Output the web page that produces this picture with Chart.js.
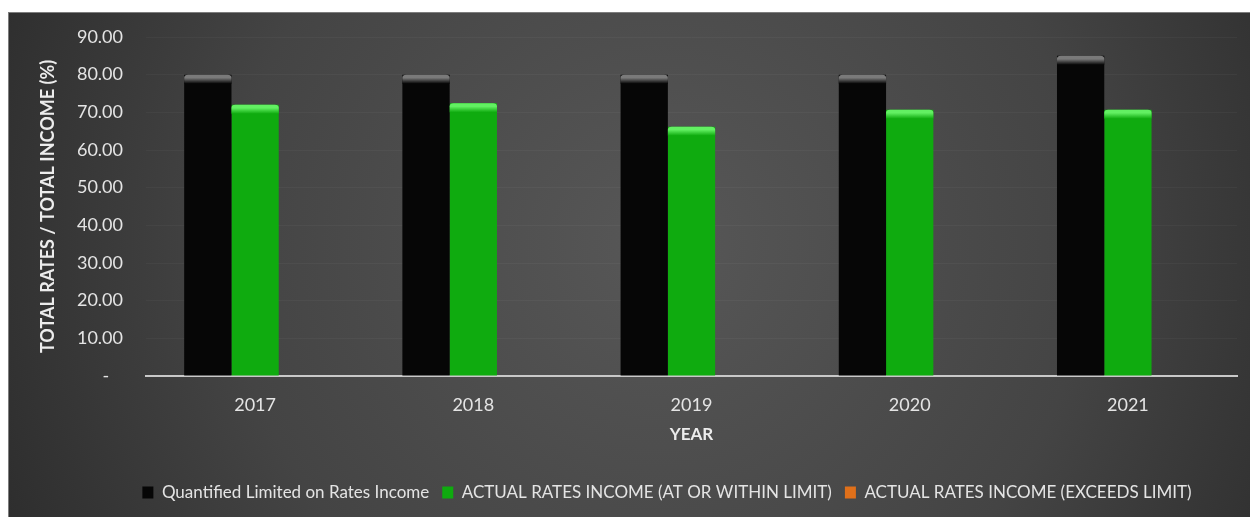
<!DOCTYPE html>
<html>
<head>
<meta charset="utf-8">
<script src="https://cdn.jsdelivr.net/npm/chart.js@4.4.1/dist/chart.umd.min.js"></script>
<style>
  html, body { margin: 0; padding: 0; background: #ffffff; }
  #wrap {
    position: absolute; left: 8px; top: 12px;
    width: 1242px; height: 505px;
    border-top: 1px solid #7d7d7d; border-left: 1px solid #7d7d7d;
  }
  canvas { display: block; }
</style>
</head>
<body>
<div id="wrap"><canvas id="myChart" width="1241" height="504"></canvas></div>
<script>
// rates income vs limit, per year
var years = ["2017", "2018", "2019", "2020", "2021"];
var quantifiedLimit = [80, 80, 80, 80, 85];
var actualWithin = [72.0, 72.4, 66.2, 70.7, 70.7];
var actualExceeds = [null, null, null, null, null];

var seriesNames = [
  "Quantified Limited on Rates Income",
  "ACTUAL RATES INCOME (AT OR WITHIN LIMIT)",
  "ACTUAL RATES INCOME (EXCEEDS LIMIT)",
];

var bodyColor = ["#060606", "#0fab0f", "#e0701a"];
var capColor = ["#7a7a7a", "#62f062", "#ffb060"];

var textColor = "#e4e4e4";
var fontFamily = "Lato, 'Open Sans', sans-serif";

// dark radial backdrop behind everything
const backdrop = {
  id: "backdrop",
  beforeDraw(chart) {
    const { ctx, width, height } = chart;
    const g = ctx.createRadialGradient(650, 230, 0, 650, 230, 780);
    g.addColorStop(0, "#575757");
    g.addColorStop(0.55, "#444444");
    g.addColorStop(1, "#282828");
    ctx.save();
    ctx.fillStyle = g;
    ctx.fillRect(0, 0, width, height);
    ctx.restore();
  },
};

// legend row sits a little right of the canvas centre
const legendShift = {
  id: "legendShift",
  afterLayout(chart) {
    const lg = chart.legend;
    if (!lg) return;
    lg.left += 44;
    lg.right += 44;
  },
};

// glossy rim on top of each bar
const barGloss = {
  id: "barGloss",
  afterDatasetsDraw(chart) {
    const ctx = chart.ctx;
    chart.data.datasets.forEach((ds, i) => {
      const meta = chart.getDatasetMeta(i);
      meta.data.forEach((bar, idx) => {
        if (ds.data[idx] == null) return;
        const left = bar.x - bar.width / 2;
        const top = bar.y;
        const w = bar.width;
        const h = 9;
        const g = ctx.createLinearGradient(0, top, 0, top + h);
        g.addColorStop(0, capColor[i]);
        g.addColorStop(0.35, capColor[i]);
        g.addColorStop(1, bodyColor[i]);
        ctx.save();
        ctx.fillStyle = g;
        ctx.beginPath();
        ctx.moveTo(left, top + h);
        ctx.lineTo(left, top + 3);
        ctx.quadraticCurveTo(left, top, left + 4, top);
        ctx.lineTo(left + w - 4, top);
        ctx.quadraticCurveTo(left + w, top, left + w, top + 3);
        ctx.lineTo(left + w, top + h);
        ctx.closePath();
        ctx.fill();
        ctx.restore();
      });
    });
  },
};

const ctx = document.getElementById("myChart");

const config = {
  type: "bar",
  data: {
    labels: years,
    datasets: [
      { label: seriesNames[0], data: quantifiedLimit, backgroundColor: bodyColor[0], borderWidth: 0 },
      { label: seriesNames[1], data: actualWithin, backgroundColor: bodyColor[1], borderWidth: 0 },
      { label: seriesNames[2], data: actualExceeds, backgroundColor: bodyColor[2], borderWidth: 0 },
    ],
  },
  options: {
    responsive: false,
    animation: false,
    datasets: {
      bar: { categoryPercentage: 0.65, barPercentage: 1.0 },
    },
    layout: { padding: { top: 24, right: 13, bottom: 6, left: 0 } },
    plugins: {
      tooltip: { enabled: false },
      legend: {
        position: "bottom",
        labels: {
          color: textColor,
          font: { family: fontFamily, size: 17 },
          boxWidth: 11,
          boxHeight: 12,
          padding: 13,
        },
      },
    },
    scales: {
      x: {
        grid: { color: "rgba(0,0,0,0)", drawTicks: false },
        border: { display: true, color: "#c9c9c9", width: 2 },
        ticks: { color: textColor, font: { family: fontFamily, size: 18 }, padding: 18 },
        title: {
          display: true,
          text: "YEAR",
          color: "#ececec",
          font: { family: fontFamily, size: 17, weight: "bold" },
          padding: { top: 0, bottom: 26 },
        },
        afterFit(scale) {
          scale.height = 95;
        },
      },
      y: {
        min: 0,
        max: 90,
        // invisible tick marks keep the labels off the plot without padding the top
        grid: {
          color: "rgba(255,255,255,0.035)",
          drawTicks: true,
          tickLength: 20,
          tickColor: "rgba(0,0,0,0)",
        },
        border: { display: false },
        ticks: {
          stepSize: 10,
          color: textColor,
          font: { family: fontFamily, size: 18 },
          padding: 3,
          callback: function (value) {
            return value === 0 ? "-   " : value.toFixed(2);
          },
        },
        title: {
          display: true,
          text: "TOTAL RATES / TOTAL INCOME (%)",
          color: "#ececec",
          font: { family: fontFamily, size: 18, weight: "bold" },
          padding: { top: 28, bottom: 0 },
        },
        afterFit(scale) {
          scale.width = 137;
        },
      },
    },
  },
  plugins: [backdrop, legendShift, barGloss],
};

var chart = new Chart(ctx, config);
</script>
</body>
</html>
